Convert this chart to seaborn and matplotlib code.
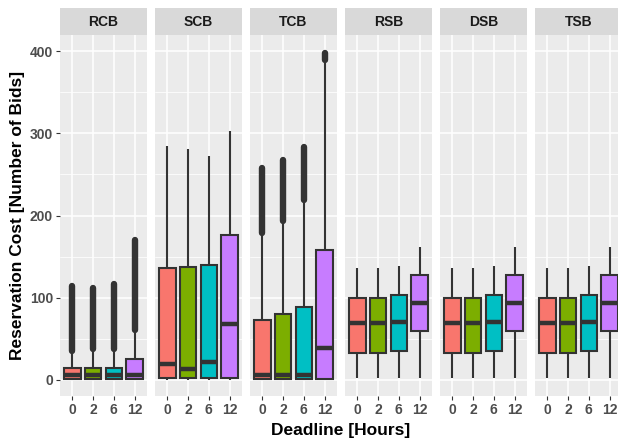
import numpy as np
import pandas as pd
import matplotlib
matplotlib.use("Agg")
import matplotlib.pyplot as plt
import seaborn as sns

# box summary stats: one value per deadline (0, 2, 6, 12 h)
panels = ["RCB", "SCB", "TCB", "RSB", "DSB", "TSB"]
deadlines = ["0", "2", "6", "12"]

whisker_lo = {
    "RCB": [0, 0, 0, 0], "SCB": [0, 0, 0, 0], "TCB": [0, 0, 0, 0],
    "RSB": [2, 2, 2, 2], "DSB": [2, 2, 2, 2], "TSB": [2, 2, 2, 2],
}
q1 = {
    "RCB": [1, 1, 1, 1], "SCB": [2, 2, 2, 2], "TCB": [1, 1, 1, 1],
    "RSB": [32, 32, 35, 59], "DSB": [32, 32, 35, 59], "TSB": [32, 32, 35, 59],
}
median = {
    "RCB": [5, 5, 5, 5], "SCB": [19, 13, 22, 68], "TCB": [5, 5, 5, 38],
    "RSB": [69, 69, 70, 93], "DSB": [69, 69, 70, 93], "TSB": [69, 69, 70, 93],
}
q3 = {
    "RCB": [14, 14, 14, 25], "SCB": [136, 137, 140, 176], "TCB": [73, 80, 89, 158],
    "RSB": [100, 100, 103, 127], "DSB": [100, 100, 103, 127], "TSB": [100, 100, 103, 127],
}
whisker_hi = {
    "RCB": [32, 34, 34, 57], "SCB": [285, 281, 273, 303], "TCB": [176, 190, 216, 386],
    "RSB": [136, 136, 139, 162], "DSB": [136, 136, 139, 162], "TSB": [136, 136, 139, 162],
}
# first / last outlier (dense runs of points drawn as thick segments)
outlier_lo = {
    "RCB": [35, 37, 37, 60], "TCB": [179, 193, 219, 389],
}
outlier_hi = {
    "RCB": [114, 112, 116, 170], "TCB": [258, 268, 284, 398],
}

colors = ["#F8766D", "#7CAE00", "#00BFC4", "#C77CFF"]

# five values per box -> seaborn reproduces the quartiles exactly
rows = []
for p in panels:
    for i, d in enumerate(deadlines):
        for v in (whisker_lo[p][i], q1[p][i], median[p][i], q3[p][i], whisker_hi[p][i]):
            rows.append({"panel": p, "deadline": d, "cost": v})
df = pd.DataFrame(rows)

sns.set_style("whitegrid")
plt.rcParams["font.family"] = ["Liberation Sans", "DejaVu Sans"]

fig, axes = plt.subplots(1, 6, figsize=(6.18, 4.43), dpi=100, sharey=True)
fig.subplots_adjust(left=60 / 618, right=622 / 618, bottom=1 - 396 / 443,
                    top=1 - 35 / 443, wspace=0.092)

line_col = "#333333"
strip_h = 27 / 361
for ax, p in zip(axes, panels):
    sub = df[df["panel"] == p]
    sns.boxplot(data=sub, x="deadline", y="cost", hue="deadline", order=deadlines,
                hue_order=deadlines, palette=colors, legend=False, ax=ax,
                whis=(0, 100), width=0.78, linewidth=1.5, linecolor=line_col,
                showcaps=False, saturation=1,
                medianprops={"linewidth": 3.2, "color": line_col, "zorder": 5},
                whiskerprops={"color": line_col, "linewidth": 1.5})
    if p in outlier_lo:
        ax.vlines(range(len(deadlines)), outlier_lo[p], outlier_hi[p],
                  color=line_col, linewidth=4.6, capstyle="round", zorder=4)

    ax.set_facecolor("#EBEBEB")
    for s in ax.spines.values():
        s.set_visible(False)
    ax.set_xlim(-0.6, 3.6)
    ax.set_ylim(-20, 420)
    ax.set_yticks([0, 100, 200, 300, 400])
    ax.set_yticks([50, 150, 250, 350], minor=True)
    ax.grid(which="major", color="white", linewidth=1.1)
    ax.grid(which="minor", axis="y", color="white", linewidth=0.55)
    ax.set_axisbelow(True)
    ax.set_xlabel("")
    ax.set_ylabel("")
    ax.tick_params(axis="both", which="major", length=3, width=0.8, color=line_col,
                   labelcolor="#4D4D4D", labelsize=10, pad=2, bottom=True)
    ax.tick_params(axis="y", which="minor", length=0)
    ax.tick_params(axis="y", left=(p == "RCB"))
    for lab in ax.get_xticklabels() + ax.get_yticklabels():
        lab.set_fontweight("bold")

    # facet strip
    ax.add_patch(plt.Rectangle((0, 1.0), 1, strip_h, transform=ax.transAxes,
                               facecolor="#D9D9D9", edgecolor="none",
                               clip_on=False, zorder=0))
    ax.text(0.5, 1 + strip_h / 2, p, transform=ax.transAxes, ha="center",
            va="center", fontsize=10, fontweight="bold", color="#1A1A1A")

fig.text((60 + 622) / 2 / 618, 1 - 430 / 443, "Deadline [Hours]", ha="center",
         va="center", fontsize=12.5, fontweight="bold", color="black")
fig.text(18 / 618, 1 - (35 + 396) / 2 / 443, "Reservation Cost [Number of Bids]",
         ha="center", va="center", rotation=90, fontsize=12.5, fontweight="bold",
         color="black")

fig.savefig("out.png", dpi=100)
